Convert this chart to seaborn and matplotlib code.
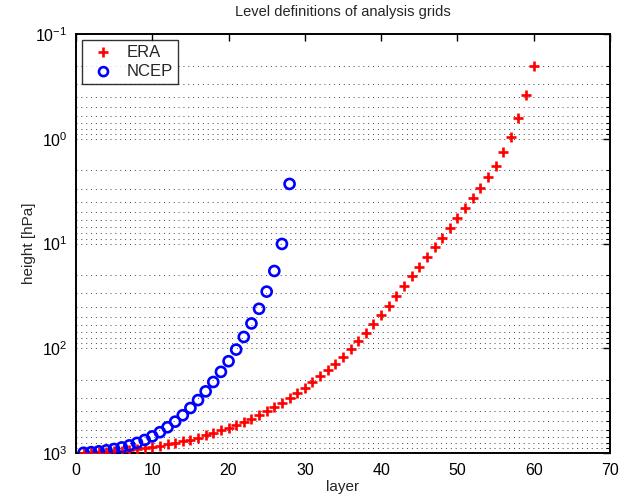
import numpy as np
import pandas as pd
import seaborn as sns
import matplotlib
matplotlib.use("Agg")
import matplotlib.pyplot as plt

# Pressure of each model level (hPa), indexed by layer number
era_layers = list(range(1, 61))
era_hpa = [996, 991, 984, 975, 964, 950, 934, 916, 896, 874,
           850, 825, 798, 770, 745, 712, 678, 642, 606, 571,
           537, 503, 469, 434, 399, 366, 333, 300, 269, 240,
           212, 186, 162, 140, 120, 102, 86, 72, 59, 48,
           39.2, 31.6, 25.5, 20.6, 16.7, 13.5, 10.9, 8.8, 7.05, 5.72,
           4.63, 3.7, 2.95, 2.33, 1.81, 1.34, 0.955, 0.637, 0.38, 0.2]

ncep_layers = list(range(1, 29))
ncep_hpa = [995, 982, 964, 942.5, 916, 884, 846, 801, 751, 694,
            633, 568, 502, 436, 372, 312.5, 258, 210, 168, 133,
            103, 78, 58, 42, 28.8, 18.3, 10.1, 2.7]

xticks = [0, 10, 20, 30, 40, 50, 60, 70]

era = pd.DataFrame({"layer": era_layers, "hPa": era_hpa})
ncep = pd.DataFrame({"layer": ncep_layers, "hPa": ncep_hpa})

sns.set_style("white")
plt.rcParams["font.family"] = ["Liberation Sans", "DejaVu Sans"]
plt.rcParams["mathtext.fontset"] = "custom"
plt.rcParams["mathtext.rm"] = "Liberation Sans"
plt.rcParams["mathtext.it"] = "Liberation Sans"

fig = plt.figure(figsize=(6.3, 5.0), dpi=100)
ax = fig.add_axes([0.1206, 0.094, 0.8476, 0.838])

ax.set_yscale("log")
sns.scatterplot(data=era, x="layer", y="hPa", ax=ax, marker="+", color="red",
                s=55, linewidth=1.9, label="ERA", zorder=3)
sns.scatterplot(data=ncep, x="layer", y="hPa", ax=ax, marker="o",
                facecolors="none", edgecolor="blue", s=52, linewidth=1.9,
                label="NCEP", zorder=3)

ax.set_xlim(0, 70)
ax.set_ylim(1000, 0.1)
ax.set_xticks(xticks)

ax.yaxis.grid(True, which="both", linestyle=(0, (1, 4)), color="#444444",
              linewidth=0.7)
ax.xaxis.grid(False)
ax.set_axisbelow(True)

ax.tick_params(axis="both", which="both", direction="in", top=True,
               right=True, labelsize=11.5, colors="black")
ax.tick_params(axis="x", which="major", pad=7)
ax.tick_params(axis="y", which="major", pad=6)
ax.tick_params(axis="both", which="major", length=5, width=1)
ax.tick_params(axis="y", which="minor", length=3, width=0.8)
for sp in ax.spines.values():
    sp.set_color("black")
    sp.set_linewidth(1.4)

ax.set_xlabel("layer", fontsize=11, labelpad=2)
ax.set_ylabel("height [hPa]", fontsize=11)
ax.yaxis.set_label_coords(-0.074, 0.5)
ax.set_title("Level definitions of analysis grids", fontsize=10.5, pad=13)

leg = ax.legend(loc="upper left", fontsize=12, frameon=True, fancybox=False,
                borderaxespad=0.35, handletextpad=0.4, borderpad=0.3,
                labelspacing=0.25, markerscale=0.9)
leg.get_frame().set_edgecolor("black")
leg.get_frame().set_linewidth(1.0)

fig.savefig("out.png", dpi=100)
